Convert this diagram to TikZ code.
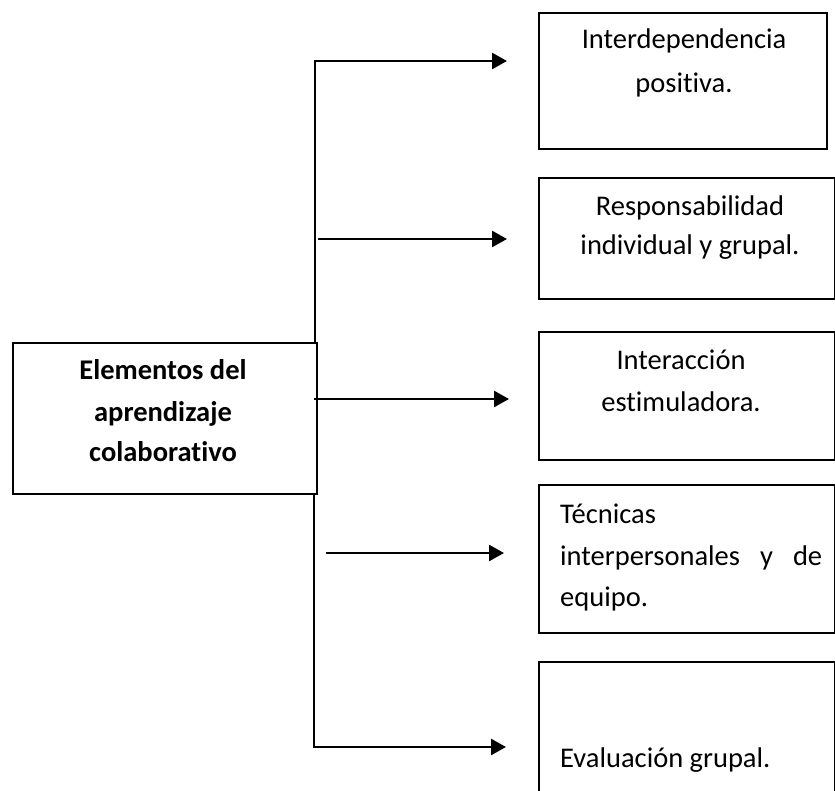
\documentclass[tikz,border=0pt]{standalone}
\usepackage{fontspec}
\setmainfont{Carlito}[Ligatures=NoCommon]
\usetikzlibrary{arrows.meta}
\begin{document}
\begin{tikzpicture}[x=1pt,y=-1pt,
  box/.style={draw,line width=2.2pt,rectangle,inner sep=0pt,anchor=north west},
  conn/.style={line width=2.7pt,line join=miter},
  arr/.style={conn,-{Triangle[length=15pt,width=16pt]}},
  txt/.style={inner sep=0pt,anchor=base,font=\fontsize{28.5}{42}\selectfont},
  txtl/.style={txt,anchor=base west},
  txtb/.style={txt,font=\fontsize{28.5}{42}\selectfont\bfseries}]
\useasboundingbox (0,0) rectangle (835,791);
\clip (0,0) rectangle (835,791);
% boxes
\node[box,minimum width=304pt,minimum height=151pt] (main) at (12,342) {};
\node[box,minimum width=288pt,minimum height=136pt] (b1) at (538,12) {};
\node[box,minimum width=296pt,minimum height=121pt] (b2) at (538,177) {};
\node[box,minimum width=296pt,minimum height=128pt] (b3) at (538,331) {};
\node[box,minimum width=296pt,minimum height=148pt] (b4) at (538,484) {};
\node[box,minimum width=296pt,minimum height=150pt] (b5) at (538,661) {};
% texts
\node[txtb] (m1) at (163,380) {Elementos del};
\node[txtb] (m2) at (163,421) {aprendizaje};
\node[txtb] (m3) at (163,461) {colaborativo};
\node[txt] (t1a) at (684,49) {Interdependencia};
\node[txt] (t1b) at (684,93) {positiva.};
\node[txt] (t2a) at (690,216) {Responsabilidad};
\node[txt] (t2b) at (690,255) {individual y grupal.};
\node[txt] (t3a) at (681,370) {Interacción};
\node[txt] (t3b) at (681,411) {estimuladora.};
\node[txtl] (t4a) at (560,523) {Técnicas};
\node[txtl] (t4b) at (560,565) {\hbox to 262pt{interpersonales\hfill y\hfill de}};
\node[txtl] (t4c) at (560,606) {equipo.};
\node[txtl] (t5a) at (560,767) {Evaluación grupal.};
% connectors
\coordinate (top) at (315,61);
\coordinate (e1) at (507,61);
\coordinate (bot) at (314,747);
\coordinate (e5) at (506,747);
\coordinate (s2) at (318,239);
\coordinate (e2) at (507,239);
\coordinate (s3) at (314,399);
\coordinate (e3) at (509,399);
\coordinate (s4) at (326,553);
\coordinate (e4) at (504,553);
\draw[arr] (main.north -| top) -- (top) -- (e1);
\draw[arr] (main.south -| bot) -- (bot) -- (e5);
\draw[arr] (s2) -- (e2);
\draw[arr] (s3) -- (e3);
\draw[arr] (s4) -- (e4);
\end{tikzpicture}
\end{document}
